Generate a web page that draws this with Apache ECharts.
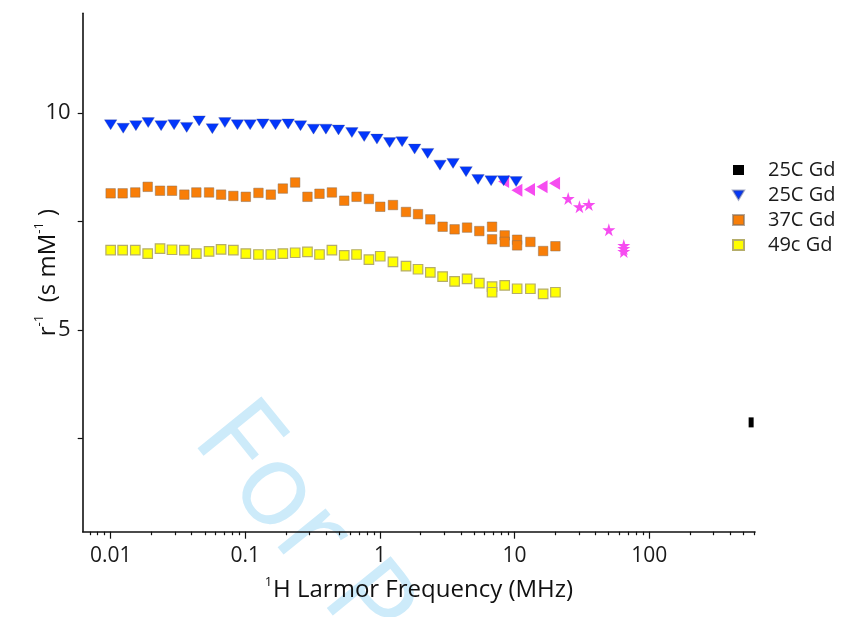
<!DOCTYPE html>
<html>
<head>
<meta charset="utf-8">
<script src="https://cdn.jsdelivr.net/npm/echarts@6/dist/echarts.min.js"></script>
<style>
html,body{margin:0;padding:0;background:#fff;}
#chart{width:842px;height:617px;}
</style>
</head>
<body>
<div id="chart"></div>
<script>
// ---- data ----
const blackFreq = [571];
const blackR = [2.87];

const blueFreq = [0.01, 0.0124, 0.0154, 0.019, 0.0237, 0.0296, 0.0367, 0.0454, 0.0569, 0.0705,
  0.0874, 0.1086, 0.135, 0.1676, 0.208, 0.257, 0.321, 0.397, 0.492, 0.619,
  0.764, 0.95, 1.18, 1.46, 1.81, 2.26, 2.79, 3.49, 4.36, 5.35, 6.69, 8.29, 10.26];
const blueR = [9.73, 9.65, 9.71, 9.78, 9.71, 9.73, 9.67, 9.82, 9.64, 9.78,
  9.73, 9.73, 9.75, 9.73, 9.75, 9.71, 9.63, 9.63, 9.61, 9.55,
  9.46, 9.40, 9.32, 9.34, 9.17, 9.07, 8.80, 8.84, 8.65, 8.47, 8.44, 8.44, 8.42];

const orangeFreq = [0.01, 0.01228, 0.01524, 0.01884, 0.02326, 0.02856, 0.03526, 0.04329, 0.05381, 0.0661,
  0.0815, 0.1009, 0.1252, 0.1547, 0.190, 0.2346, 0.2895, 0.3556, 0.4397, 0.5427,
  0.670, 0.828, 1.005, 1.249, 1.561, 1.917, 2.366, 2.92, 3.585, 4.436,
  5.47, 6.80, 6.80, 8.44, 8.44, 10.44, 10.44, 13.1, 16.29, 20.1];
const orangeR = [8.15, 8.15, 8.17, 8.30, 8.21, 8.21, 8.12, 8.17, 8.17, 8.12,
  8.09, 8.07, 8.16, 8.12, 8.26, 8.40, 8.07, 8.14, 8.17, 7.98,
  8.07, 8.02, 7.84, 7.88, 7.72, 7.67, 7.55, 7.38, 7.32, 7.36,
  7.28, 7.38, 7.09, 7.18, 7.03, 7.08, 6.95, 7.03, 6.82, 6.93];

const yellowFreq = [0.01, 0.01228, 0.01524, 0.01884, 0.02326, 0.02856, 0.03526, 0.04329, 0.05381, 0.0661,
  0.0815, 0.1009, 0.1252, 0.1547, 0.190, 0.2346, 0.2895, 0.3556, 0.4397, 0.5427,
  0.670, 0.828, 1.005, 1.249, 1.561, 1.917, 2.366, 2.92, 3.585, 4.436,
  5.47, 6.80, 6.80, 8.44, 10.44, 13.1, 16.29, 20.1];
const yellowR = [6.84, 6.84, 6.84, 6.76, 6.875, 6.85, 6.84, 6.76, 6.81, 6.86,
  6.84, 6.76, 6.74, 6.74, 6.76, 6.78, 6.80, 6.74, 6.84, 6.72,
  6.74, 6.62, 6.70, 6.57, 6.47, 6.40, 6.33, 6.23, 6.12, 6.18,
  6.08, 6.00, 5.87, 6.03, 5.95, 5.95, 5.83, 5.87];

const magTriFreq = [8.29, 10.4, 12.9, 16.0, 19.8];
const magTriR = [8.42, 8.22, 8.24, 8.30, 8.38];

const starFreq = [25.0, 30.3, 35.6, 50.1, 64.7, 64.7, 64.7];
const starR = [8.03, 7.84, 7.89, 7.31, 6.95, 6.88, 6.81];

const legendNames = ['s0', 's1', 's2', 's3'];
const legendLabels = ['25C Gd', '25C Gd', '37C Gd', '49c Gd'];

const xMajorTicks = [0.01, 0.1, 1, 10, 100];
const xMajorLabels = ['0.01', '0.1', '1', '10', '100'];
const xMinorTicks = [0.007, 0.008, 0.009,
  0.02, 0.03, 0.04, 0.05, 0.06, 0.07, 0.08, 0.09,
  0.2, 0.3, 0.4, 0.5, 0.6, 0.7, 0.8, 0.9,
  2, 3, 4, 5, 6, 7, 8, 9,
  20, 30, 40, 50, 60, 70, 80, 90,
  200, 300, 400, 500, 600];
const yTicks = [2.5, 5, 7.5, 10];
const yLabels = [5, 10];

// ---- chart ----
const FONT = 'Open Sans';
const zip = (a, b) => a.map((v, i) => [v, b[i]]);
const starPath = 'path://M50,0 L61,35 L98,35 L68,57 L79,91 L50,70 L21,91 L32,57 L2,35 L39,35 Z';
const downTri = 'path://M0,0 L12,0 L6,10 Z';
const leftTri = 'path://M0,6 L10,0 L10,12 Z';

const chart = echarts.init(document.getElementById('chart'), null, { renderer: 'canvas' });
const xMin = 0.0062, xMax = 610;

chart.setOption({
  animation: false,
  backgroundColor: '#ffffff',
  grid: { left: 82.7, right: 87, top: 13.3, bottom: 85.3, containLabel: false },
  graphic: [{
    type: 'text', x: 216, y: 419, rotation: -0.89, z: -10,
    style: { text: 'For Peer Review', fontSize: 115, fontFamily: FONT, fill: '#cdebfa', align: 'left', verticalAlign: 'middle' }
  }],
  legend: {
    data: legendNames, orient: 'vertical', left: 732, top: 160, padding: 0,
    itemWidth: 11, itemHeight: 10, itemGap: 5,
    formatter: n => legendLabels[legendNames.indexOf(n)],
    textStyle: { fontSize: 20, fontFamily: FONT, color: '#1a1a1a', lineHeight: 20, padding: [0, 0, 0, 19] }
  },
  xAxis: [{
    type: 'log', logBase: 10, min: xMin, max: xMax, position: 'bottom',
    axisLine: { show: true, onZero: false, lineStyle: { color: '#111', width: 1.6 } },
    axisTick: { show: true, length: 7, customValues: xMajorTicks, lineStyle: { color: '#111', width: 1.2 } },
    axisLabel: { customValues: xMajorTicks, margin: 14, fontSize: 21, fontFamily: FONT, color: '#1a1a1a',
      formatter: v => { const i = xMajorTicks.findIndex(t => Math.abs(t - v) / t < 1e-6); return i >= 0 ? xMajorLabels[i] : ''; } },
    splitLine: { show: false },
    name: '{sup|1}{n|H Larmor Frequency (MHz)}', nameLocation: 'middle', nameGap: 44, nameMoveOverlap: false,
    nameTextStyle: { rich: {
      n: { fontSize: 24, fontFamily: FONT, color: '#111', lineHeight: 28 },
      sup: { fontSize: 13, fontFamily: FONT, color: '#111', verticalAlign: 'top', lineHeight: 28, padding: [0, 1, 12, 0] }
    } }
  }, {
    type: 'log', logBase: 10, min: xMin, max: xMax, position: 'bottom',
    axisLine: { show: false },
    axisTick: { show: true, length: 3.5, customValues: xMinorTicks, lineStyle: { color: '#111', width: 1.2 } },
    axisLabel: { show: false }, splitLine: { show: false }
  }],
  yAxis: {
    type: 'value', min: 0.35, max: 12.3,
    axisLine: { show: true, onZero: false, lineStyle: { color: '#111', width: 1.6 } },
    axisTick: { show: true, length: 5, customValues: yTicks, lineStyle: { color: '#111', width: 1.2 } },
    axisLabel: { customValues: yLabels, margin: 12, fontSize: 22, fontFamily: FONT, color: '#1a1a1a' },
    splitLine: { show: false },
    name: '{n|r}{sup|-1}{n|  (s mM}{sup|-1}{n| )}', nameLocation: 'middle', nameGap: 20, nameRotate: 90, nameMoveOverlap: false,
    nameTextStyle: { rich: {
      n: { fontSize: 24, fontFamily: FONT, color: '#111', lineHeight: 30 },
      sup: { fontSize: 13, fontFamily: FONT, color: '#111', verticalAlign: 'top', lineHeight: 30 }
    } }
  },
  series: [
    { name: 'mag1', type: 'scatter', data: zip(magTriFreq, magTriR), symbol: leftTri, symbolSize: [11, 13],
      itemStyle: { color: '#f64cf0', opacity: 1 } },
    { name: 'mag2', type: 'scatter', data: zip(starFreq, starR), symbol: starPath, symbolSize: 13,
      itemStyle: { color: '#f64cf0', opacity: 1 } },
    { name: 's0', type: 'scatter', data: zip(blackFreq, blackR), symbol: 'rect', symbolSize: [5, 10],
      itemStyle: { color: '#000', opacity: 1 } },
    { name: 's1', type: 'scatter', data: zip(blueFreq, blueR), symbol: downTri, symbolSize: [12.5, 10],
      itemStyle: { color: '#0236fb', borderColor: 'rgba(60,70,130,0.45)', borderWidth: 0.6, opacity: 1 } },
    { name: 's2', type: 'scatter', data: zip(orangeFreq, orangeR), symbol: 'rect', symbolSize: 9.5,
      itemStyle: { color: '#f87e08', borderColor: 'rgba(130,110,90,0.6)', borderWidth: 0.8, opacity: 1 } },
    { name: 's3', type: 'scatter', data: zip(yellowFreq, yellowR), symbol: 'rect', symbolSize: 9.5,
      itemStyle: { color: '#ffff00', borderColor: '#b5ad6a', borderWidth: 1.2, opacity: 1 } }
  ]
});
</script>
</body>
</html>
